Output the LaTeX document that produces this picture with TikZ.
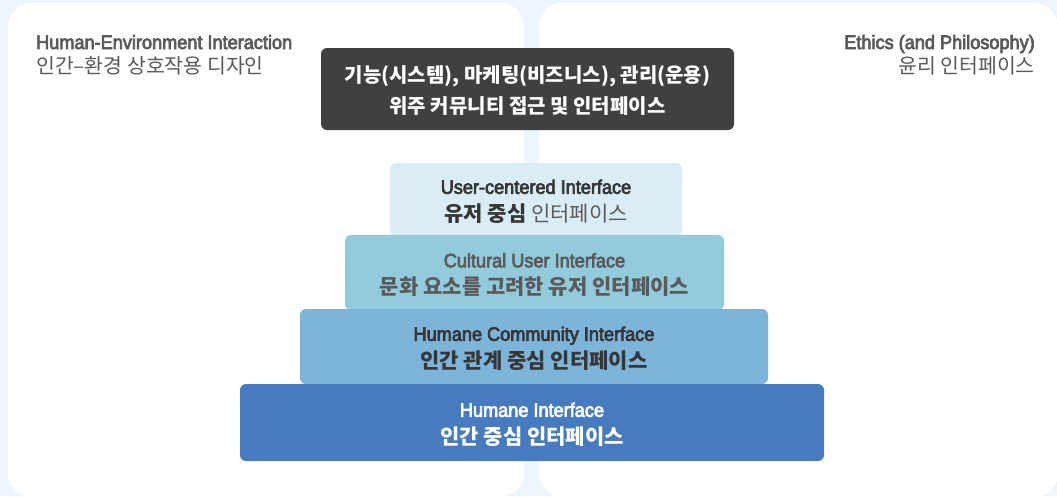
\documentclass[tikz,border=0pt]{standalone}
\usepackage{fontspec}
\setmainfont{Noto Sans CJK KR}
\newfontfamily\kr{Noto Sans CJK KR}
\newfontfamily\en[FakeStretch=0.93,FakeBold=3.5]{Liberation Sans}
\definecolor{bgc}{HTML}{EEF6FD}
\definecolor{darkbox}{HTML}{404040}
\definecolor{lay1}{HTML}{DAEDF4}
\definecolor{lay2}{HTML}{92CCDC}
\definecolor{lay3}{HTML}{7DB4DA}
\definecolor{lay4}{HTML}{467CBF}
\definecolor{txtgray}{HTML}{5A5A5A}
\definecolor{txtdark}{HTML}{363636}
\tikzset{
  panel/.style={fill=white, rounded corners=24pt},
  layer/.style={rectangle, rounded corners=6pt, inner sep=0pt, align=center},
  headtxt/.style={inner sep=0pt, text=txtgray},
}
\begin{document}
\begin{tikzpicture}[x=1pt,y=-1pt]
\useasboundingbox (0,0) rectangle (1057,496);
\fill[bgc] (0,0) rectangle (1057,496);
\fill[panel] (8,3) rectangle (524,497);
\fill[panel] (539,3) rectangle (1058,497);

% header texts
\node[headtxt, anchor=base west] (hl1) at (36,49) {\en\fontsize{19.5}{24}\selectfont Human-Environment Interaction};
\node[headtxt, anchor=base west] (hl2) at (36,73) {\kr\fontsize{20.5}{24}\selectfont 인간–환경 상호작용 디자인};
\node[headtxt, anchor=base east] (hr1) at (1035,49) {\en\fontsize{19.5}{24}\selectfont Ethics (and Philosophy)};
\node[headtxt, anchor=base east] (hr2) at (1035,73) {\kr\fontsize{20.5}{24}\selectfont 윤리 인터페이스};

% dark box (shape) and its text
\node[layer, fill=darkbox, minimum width=413pt, minimum height=82pt] (top) at (527.5,89) {};
\node[layer, text=white, font=\kr\bfseries\fontsize{20}{31}\selectfont] (toptxt) at (527.5,91)
  {기능(시스템), 마케팅(비즈니스), 관리(운용)\\위주 커뮤니티 접근 및 인터페이스};

% pyramid layers
\node[layer, fill=lay1, minimum width=292pt, minimum height=73pt] (l1) at (536,199.5) {};
\node[layer, font=\fontsize{21}{27.5}\selectfont] (l1txt) at (536,201.5)
  {\textcolor{txtdark}{\en\fontsize{19.5}{27.5}\selectfont User-centered Interface}\\
   {\kr\textcolor{txtdark}{\bfseries 유저 중심} \textcolor{txtgray}{인터페이스}}};
\node[layer, fill=lay2, minimum width=379pt, minimum height=75pt] (l2) at (534.5,272.5) {};
\node[layer, text=txtgray, font=\fontsize{21}{27.5}\selectfont] (l2txt) at (534.5,275)
  {{\en\fontsize{19.5}{27.5}\selectfont Cultural User Interface}\\
   {\kr\bfseries 문화 요소를 고려한 유저 인터페이스}};
\node[layer, fill=lay3, minimum width=468pt, minimum height=75pt] (l3) at (534,346.5) {};
\node[layer, text=txtdark, font=\fontsize{21}{27.5}\selectfont] (l3txt) at (534,348.5)
  {{\en\fontsize{19.5}{27.5}\selectfont Humane Community Interface}\\
   {\kr\bfseries 인간 관계 중심 인터페이스}};
\node[layer, fill=lay4, minimum width=584pt, minimum height=77pt] (l4) at (532,422.5) {};
\node[layer, text=white, font=\fontsize{21}{27.5}\selectfont] (l4txt) at (532,424.5)
  {{\en\fontsize{19.5}{27.5}\selectfont Humane Interface}\\
   {\kr\bfseries 인간 중심 인터페이스}};
\end{tikzpicture}
\end{document}
